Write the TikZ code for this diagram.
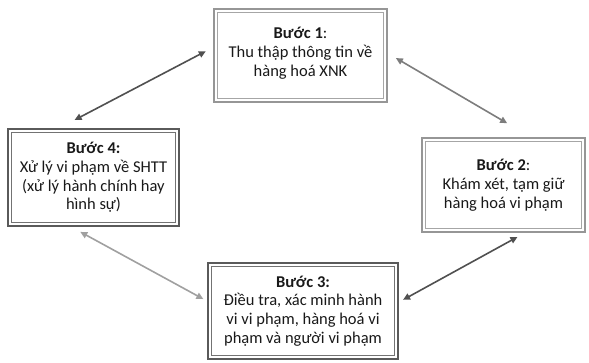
\documentclass[tikz,border=0pt]{standalone}
\usepackage{fontspec}
\setmainfont{Carlito}
\usetikzlibrary{arrows.meta}
\definecolor{framedark}{RGB}{90, 90, 90}
\definecolor{framelight}{RGB}{150, 150, 150}
\definecolor{linkdark}{RGB}{80, 80, 80}
\definecolor{linkmid}{RGB}{125, 125, 125}
\definecolor{linklight}{RGB}{160, 160, 160}

\begin{document}
\begin{tikzpicture}[x=1pt, y=-1pt,
  stepbox/.style={draw=#1, line width=2.2pt, fill=white, align=center, inner sep=0pt,
    text=black!90, font=\fontsize{16.5}{18.8}\selectfont,
    path picture={\draw[#1!85, line width=0.9pt]
      ([shift={(3.4pt,3.4pt)}]path picture bounding box.south west) rectangle
      ([shift={(-3.4pt,-3.4pt)}]path picture bounding box.north east);}},
  link/.style={{Triangle[length=7pt,width=6.5pt]}-{Triangle[length=7pt,width=6.5pt]},
    line width=1.6pt, draw=#1}]
  \useasboundingbox (0,0) rectangle (589,363);

  % the four steps
  \node[stepbox=framelight, minimum width=173pt, minimum height=93pt] (b1) at (300.5,55.5)
    {\textbf{Bước 1}:\\Thu thập thông tin về\\hàng hoá XNK\\[-12pt]\mbox{}};
  \node[stepbox=framelight, minimum width=163pt, minimum height=94pt] (b2) at (503.5,185)
    {\textbf{Bước 2}:\\Khám xét, tạm giữ\\hàng hoá vi phạm};
  \node[stepbox=framedark, minimum width=190pt, minimum height=96pt] (b3) at (303,311)
    {\textbf{Bước 3:}\\Điều tra, xác minh hành\\vi vi phạm, hàng hoá vi\\phạm và người vi phạm};
  \node[stepbox=framedark, minimum width=171pt, minimum height=97pt] (b4) at (93.5,177.5)
    {\textbf{Bước 4:}\\Xử lý vi phạm về SHTT\\(xử lý hành chính hay\\hình sự)};

  % links round the cycle
  \draw[link=linkdark, shorten <=8pt, shorten >=17pt] ([yshift=8pt]b1.west) -- ([xshift=-34pt]b4.north);
  \draw[link=linkmid, shorten <=9pt, shorten >=27pt] ([yshift=2pt]b1.east) -- ([xshift=27pt]b2.north);
  \draw[link=linkdark, shorten <=8pt, shorten >=4.5pt] ([xshift=21pt]b2.south) -- ([yshift=9pt]b3.east);
  \draw[link=linklight, shorten <=4pt, shorten >=10pt] ([yshift=10pt]b3.west) -- ([xshift=-22pt]b4.south);
\end{tikzpicture}
\end{document}
